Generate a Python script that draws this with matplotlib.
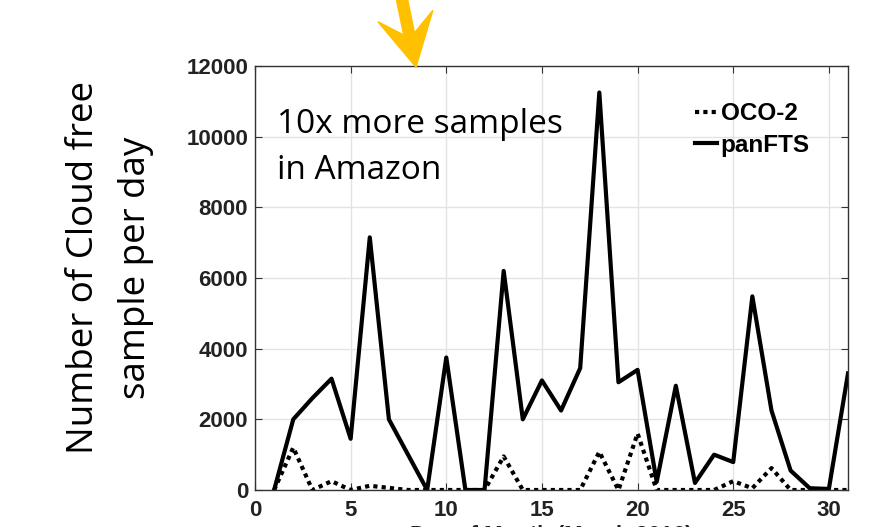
import matplotlib
matplotlib.use("Agg")
import matplotlib.pyplot as plt
from matplotlib.patches import FancyArrow

days = list(range(1, 32))
panfts = [0, 2000, 2600, 3150, 1450, 7150, 2000, 1000, 0, 3750,
          0, 0, 6200, 2000, 3100, 2250, 3450, 11250, 3050, 3400,
          230, 2950, 200, 1000, 790, 5480, 2250, 550, 50, 30, 3300]
oco2 = [0, 1200, 0, 250, 0, 120, 60, 0, 0, 0,
        0, 0, 950, 0, 0, 0, 0, 1080, 0, 1600,
        0, 0, 0, 0, 250, 50, 620, 0, 0, 0, 0]
xticks = [0, 5, 10, 15, 20, 25, 30]
yticks = [0, 2000, 4000, 6000, 8000, 10000, 12000]

W, H = 887, 527
fig = plt.figure(figsize=(W / 100, H / 100), dpi=100)
ax = fig.add_axes([255 / W, 37 / H, (848 - 255) / W, (490 - 66) / H])

ax.plot(days, oco2, color="black", lw=3, linestyle=(0, (1, 1)), label="OCO-2")
ax.plot(days, panfts, color="black", lw=3, label="panFTS")

ax.set_xlim(0, 31)
ax.set_ylim(0, 12000)
ax.set_xticks(xticks)
ax.set_yticks(yticks)
ax.grid(True, color="#e3e3e3", lw=1)
ax.set_axisbelow(True)
for s in ax.spines.values():
    s.set_color("#333333")
    s.set_linewidth(1)
ax.tick_params(direction="in", top=True, right=True, length=5, color="#333333",
               labelsize=16)
ax.tick_params(axis="x", pad=7)
ax.tick_params(axis="y", pad=5)
for lab in ax.get_xticklabels() + ax.get_yticklabels():
    lab.set_fontweight("bold")
    lab.set_fontfamily("Liberation Sans")
    lab.set_color("#222222")

ax.set_xlabel("Day of Month (March 2016)", fontsize=16, fontweight="bold",
              family="Liberation Sans", color="#222222", labelpad=3)

leg = ax.legend(loc="upper left", bbox_to_anchor=(0.742, 0.915), frameon=False,
                borderpad=0, borderaxespad=0,
                handlelength=0.9, handletextpad=0.15, labelspacing=0.35,
                prop={"family": "Liberation Sans", "weight": "bold", "size": 17.5})

ax.text(0.037, 0.90, "10x more samples\nin Amazon", transform=ax.transAxes,
        fontsize=24, family="Open Sans", va="top", ha="left", linespacing=1.5)

fig.text(110 / W, 1 - 268 / H, "Number of Cloud free\nsample per day", rotation=90,
         fontsize=26.5, family="Open Sans", ha="center", va="center", linespacing=1.6)

arrow = FancyArrow(400, H + 10, 16, -77, width=11, head_width=56, head_length=52,
                   overhang=0.35, length_includes_head=True, color="#FFC000",
                   transform=None, figure=fig)
fig.patches.append(arrow)

fig.savefig("out.png", dpi=100)
